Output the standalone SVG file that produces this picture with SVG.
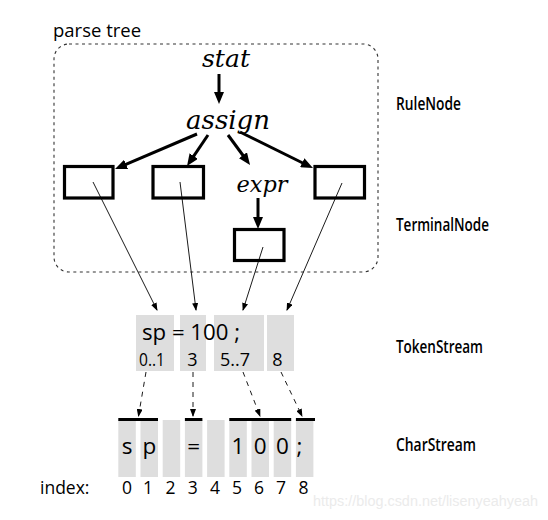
<svg xmlns="http://www.w3.org/2000/svg" width="548" height="520" viewBox="0 0 548 520">
<style>
.sans{font-family:"Open Sans","Noto Sans","Liberation Sans",sans-serif;fill:#000}
.ital{font-family:"DejaVu Serif","Liberation Serif",serif;font-style:italic;fill:#000}
.cond{font-family:"Open Sans","Liberation Sans",sans-serif;font-size:18px;font-weight:600;fill:#000}
.term{fill:#fff;stroke:#000;stroke-width:3.2}
.gray{fill:#dedede}
.thick{stroke:#000;stroke-width:3;fill:none}
.thin{stroke:#000;stroke-width:0.9;fill:none}
.dash{stroke:#000;stroke-width:0.9;fill:none;stroke-dasharray:5 5}
.bar{stroke:#000;stroke-width:3}
</style>
<defs>
<marker id="big" markerUnits="userSpaceOnUse" markerWidth="12" markerHeight="10" refX="4" refY="5" orient="auto">
<path d="M0,0 L12,5 L0,10 z" fill="#000"/>
</marker>
<marker id="small" markerUnits="userSpaceOnUse" markerWidth="8" markerHeight="6" refX="7" refY="3" orient="auto">
<path d="M0,0 L8,3 L0,6 z" fill="#000"/>
</marker>
</defs>
<rect width="548" height="520" fill="#fff"/>

<g id="parse-tree">
<text class="sans" x="53" y="37" font-size="18.5">parse tree</text>
<rect x="54" y="44" width="324" height="228" rx="15" ry="15" fill="none" stroke="#333" stroke-width="1.1" stroke-dasharray="3 3.5"/>
</g>

<g id="stat"><text class="ital" x="226" y="67" font-size="24" text-anchor="middle" textLength="48" lengthAdjust="spacingAndGlyphs">stat</text></g>
<g id="assign"><text class="ital" x="228" y="129" font-size="25.5" text-anchor="middle" textLength="84" lengthAdjust="spacingAndGlyphs">assign</text></g>
<g id="expr"><text class="ital" x="262" y="192" font-size="22.5" text-anchor="middle" textLength="51" lengthAdjust="spacingAndGlyphs">expr</text></g>

<g id="term1"><rect class="term" x="64.5" y="166.5" width="48.5" height="31.5"/></g>
<g id="term2"><rect class="term" x="153" y="166.5" width="50.5" height="31.5"/></g>
<g id="term3"><rect class="term" x="234.5" y="229.5" width="49.5" height="31"/></g>
<g id="term4"><rect class="term" x="315" y="166.5" width="49.5" height="31.5"/></g>

<g id="tokens">
<rect class="gray" x="136" y="315" width="38" height="56"/>
<rect class="gray" x="180" y="315" width="26" height="56"/>
<rect class="gray" x="214" y="315" width="50" height="56"/>
<rect class="gray" x="267" y="315" width="27" height="56"/>
<text class="sans" x="142" y="340" font-size="22.5" textLength="98" lengthAdjust="spacingAndGlyphs">sp = 100 ;</text>
<text class="sans" x="139" y="365.5" font-size="18" textLength="26" lengthAdjust="spacingAndGlyphs">0..1</text>
<text class="sans" x="192.5" y="365.5" font-size="18" text-anchor="middle">3</text>
<text class="sans" x="220" y="365.5" font-size="18" textLength="30" lengthAdjust="spacingAndGlyphs">5..7</text>
<text class="sans" x="277.5" y="365.5" font-size="18" text-anchor="middle">8</text>
</g>

<g id="chars">
<rect class="gray" x="118.3" y="420" width="17.5" height="57"/>
<rect class="gray" x="140.5" y="420" width="17.5" height="57"/>
<rect class="gray" x="162.7" y="420" width="17.5" height="57"/>
<rect class="gray" x="184.9" y="420" width="17.5" height="57"/>
<rect class="gray" x="207.1" y="420" width="17.5" height="57"/>
<rect class="gray" x="229.3" y="420" width="17.5" height="57"/>
<rect class="gray" x="251.5" y="420" width="17.5" height="57"/>
<rect class="gray" x="273.7" y="420" width="17.5" height="57"/>
<rect class="gray" x="295.9" y="420" width="17.5" height="57"/>
<line class="bar" x1="118.3" y1="419.5" x2="158" y2="419.5"/>
<line class="bar" x1="184.9" y1="419.5" x2="202.4" y2="419.5"/>
<line class="bar" x1="229.3" y1="419.5" x2="291.2" y2="419.5"/>
<line class="bar" x1="295.9" y1="419.5" x2="315" y2="419.5"/>
<g class="sans" font-size="22.5" text-anchor="middle">
<text x="127" y="454">s</text>
<text x="149.3" y="454">p</text>
<text x="193.6" y="454">=</text>
<text x="238" y="454">1</text>
<text x="260.2" y="454">0</text>
<text x="282.4" y="454">0</text>
<text x="299.5" y="454">;</text>
</g>
</g>

<g id="index">
<text class="sans" x="40" y="494" font-size="17.5">index:</text>
<g class="sans" font-size="17.5" text-anchor="middle">
<text x="127" y="494">0</text>
<text x="148" y="494">1</text>
<text x="170.5" y="494">2</text>
<text x="192.8" y="494">3</text>
<text x="215" y="494">4</text>
<text x="237" y="494">5</text>
<text x="259" y="494">6</text>
<text x="281" y="494">7</text>
<text x="303.5" y="494">8</text>
</g>
</g>

<g id="labels">
<text class="cond" x="396" y="110" textLength="65" lengthAdjust="spacingAndGlyphs">RuleNode</text>
<text class="cond" x="396" y="231" textLength="93" lengthAdjust="spacingAndGlyphs">TerminalNode</text>
<text class="cond" x="396" y="353" textLength="87" lengthAdjust="spacingAndGlyphs">TokenStream</text>
<text class="cond" x="396" y="451" textLength="80" lengthAdjust="spacingAndGlyphs">CharStream</text>
</g>

<g id="connectors">
<line class="thick" x1="219" y1="74" x2="219" y2="96" marker-end="url(#big)"/>
<line class="thick" x1="197" y1="134" x2="122.4" y2="165.9" marker-end="url(#big)"/>
<line class="thick" x1="208" y1="135" x2="191.5" y2="159.4" marker-end="url(#big)"/>
<line class="thick" x1="228" y1="135" x2="245.3" y2="158.5" marker-end="url(#big)"/>
<line class="thick" x1="240" y1="132" x2="305.8" y2="164.5" marker-end="url(#big)"/>
<line class="thick" x1="258" y1="198" x2="258" y2="221" marker-end="url(#big)"/>
<line class="thin" x1="93" y1="182" x2="157" y2="310" marker-end="url(#small)"/>
<line class="thin" x1="180" y1="182" x2="196" y2="310" marker-end="url(#small)"/>
<line class="thin" x1="263" y1="247" x2="243" y2="310" marker-end="url(#small)"/>
<line class="thin" x1="342" y1="183" x2="287" y2="310" marker-end="url(#small)"/>
<line class="dash" x1="146" y1="372" x2="138.5" y2="416" marker-end="url(#small)"/>
<line class="dash" x1="193" y1="372" x2="193" y2="416" marker-end="url(#small)"/>
<line class="dash" x1="243" y1="372" x2="260" y2="416" marker-end="url(#small)"/>
<line class="dash" x1="281" y1="372" x2="302" y2="416" marker-end="url(#small)"/>
</g>

<text x="313" y="506" font-family="'Liberation Sans',Arial,sans-serif" font-size="14" fill="#ebebeb" textLength="225" lengthAdjust="spacingAndGlyphs">https://blog.csdn.net/lisenyeahyeah</text>
</svg>
